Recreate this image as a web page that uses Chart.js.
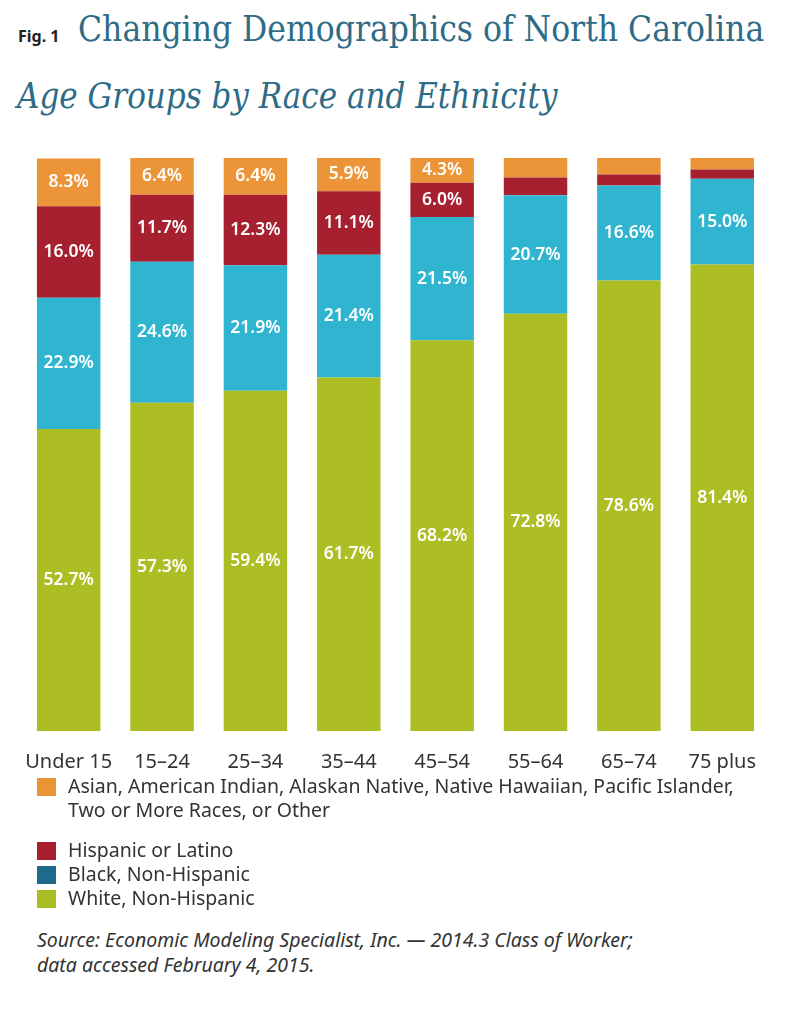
<!DOCTYPE html>
<html>
<head>
<meta charset="utf-8">
<script src="https://cdn.jsdelivr.net/npm/chart.js@4.4.0/dist/chart.umd.min.js"></script>
<style>
  body { margin: 0; background: #fff; width: 793px; height: 1024px; position: relative; overflow: hidden; font-family: "Noto Sans", sans-serif; color: #333; }
  #fig { position: absolute; left: 18px; top: 25px; font: bold 16px "Noto Sans", sans-serif; color: #222; }
  #title { position: absolute; left: 78px; top: 9px; font-family: "DejaVu Serif", serif; font-stretch: condensed; font-size: 35px; color: #2e6b86; white-space: nowrap; }
  #subtitle { position: absolute; left: 17px; top: 76px; font-family: "DejaVu Serif", serif; font-stretch: condensed; font-style: italic; font-size: 34.5px; color: #2e6b86; white-space: nowrap; }
  #wrap { position: absolute; left: 0; top: 158px; width: 775px; height: 635px; }
  #legend { position: absolute; left: 37px; top: 774px; font-size: 19.5px; line-height: 24px; }
  .item { position: relative; padding-left: 31px; margin-bottom: 0; }
  .item .sw { position: absolute; left: 0; top: 4px; width: 19px; height: 18px; }
  .gap { margin-bottom: 16px; }
  #source { position: absolute; left: 37px; top: 927px; font-size: 19.5px; line-height: 25px; font-style: italic; }
</style>
</head>
<body>
<div id="fig">Fig. 1</div>
<div id="title">Changing Demographics of North Carolina</div>
<div id="subtitle">Age Groups by Race and Ethnicity</div>
<div id="wrap"><canvas id="chart"></canvas></div>
<div id="legend"></div>
<div id="source">Source: Economic Modeling Specialist, Inc. — 2014.3 Class of Worker;<br>data accessed February 4, 2015.</div>
<script>
const ageGroups = ['Under 15', '15–24', '25–34', '35–44', '45–54', '55–64', '65–74', '75 plus'];
const white = [52.7, 57.3, 59.4, 61.7, 68.2, 72.8, 78.6, 81.4];
const black = [22.9, 24.6, 21.9, 21.4, 21.5, 20.7, 16.6, 15.0];
const hispanic = [16.0, 11.7, 12.3, 11.1, 6.0, 3.1, 1.9, 1.6];
const asianOther = [8.3, 6.4, 6.4, 5.9, 4.3, 3.4, 2.9, 2.0];

const legendItems = [
    { text: 'Asian, American Indian, Alaskan Native, Native Hawaiian, Pacific Islander,<br>Two or More Races, or Other', color: '#ea9436', gap: true },
    { text: 'Hispanic or Latino', color: '#a8202f' },
    { text: 'Black, Non-Hispanic', color: '#1d6a8c' },
    { text: 'White, Non-Hispanic', color: '#aabe23' }
];

// Build legend
const legendDiv = document.getElementById('legend');
legendItems.forEach(item => {
    const row = document.createElement('div');
    row.className = 'item' + (item.gap ? ' gap' : '');
    row.innerHTML = `<span class="sw" style="background:${item.color}"></span>${item.text}`;
    legendDiv.appendChild(row);
});

// Draw value labels in the middle of each segment
const segmentLabels = {
    id: 'segmentLabels',
    afterDatasetsDraw(chart) {
        const ctx = chart.ctx;
        ctx.save();
        ctx.fillStyle = '#fff';
        ctx.font = '600 17.5px "Noto Sans", sans-serif';
        ctx.textAlign = 'center';
        ctx.textBaseline = 'middle';
        chart.data.datasets.forEach((ds, i) => {
            chart.getDatasetMeta(i).data.forEach((bar, j) => {
                const v = ds.data[j];
                if (v < 4) return; // small segments left unlabeled
                const mid = (bar.y + bar.base) / 2;
                ctx.fillText(v.toFixed(1) + '%', bar.x, mid);
            });
        });
        ctx.restore();
    }
};

const ctx = document.getElementById('chart').getContext('2d');
new Chart(ctx, {
    type: 'bar',
    data: {
        labels: ageGroups,
        datasets: [
            { label: 'White, Non-Hispanic', data: white, backgroundColor: '#adbe24' },
            { label: 'Black, Non-Hispanic', data: black, backgroundColor: '#2fb5d0' },
            { label: 'Hispanic or Latino', data: hispanic, backgroundColor: '#a7202f' },
            { label: 'Asian and Other', data: asianOther, backgroundColor: '#ec9538' }
        ]
    },
    options: {
        responsive: true,
        maintainAspectRatio: false,
        animation: false,
        layout: { padding: { left: 22, right: 0, top: 0, bottom: 0 } },
        plugins: {
            legend: { display: false },
            tooltip: { enabled: false }
        },
        datasets: {
            bar: { barPercentage: 0.68, categoryPercentage: 1.0, borderWidth: 0 }
        },
        scales: {
            x: {
                stacked: true,
                grid: { display: false, drawTicks: false },
                border: { display: false },
                ticks: {
                    color: '#333',
                    padding: 19,
                    maxRotation: 0,
                    minRotation: 0,
                    autoSkip: false,
                    font: { family: '"Noto Sans", sans-serif', size: 20 }
                }
            },
            y: {
                stacked: true,
                display: false,
                min: 0,
                max: 100
            }
        }
    },
    plugins: [segmentLabels]
});
</script>
</body>
</html>
